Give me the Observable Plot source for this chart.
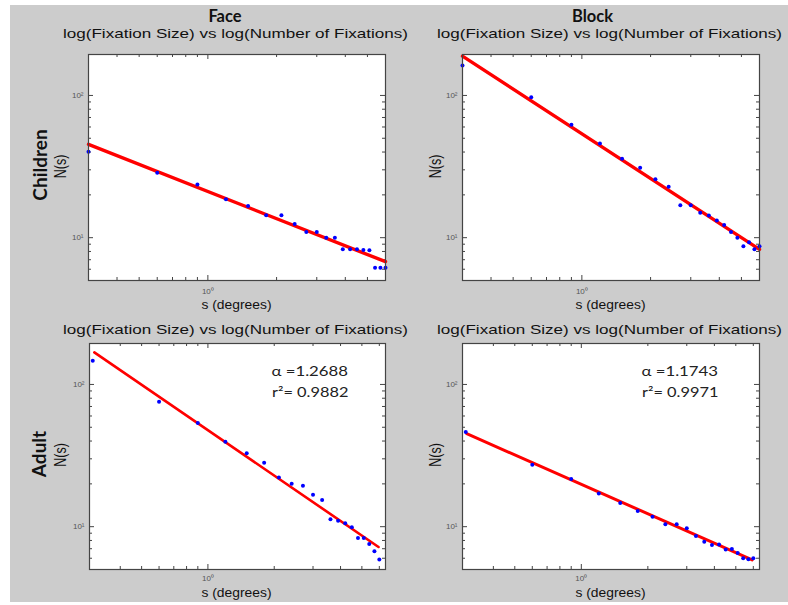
<!DOCTYPE html>
<html><head><meta charset="utf-8">
<script src="https://cdn.jsdelivr.net/npm/d3@7"></script>
<script src="https://cdn.jsdelivr.net/npm/@observablehq/plot@0.6"></script>
<style>
body{margin:0;background:#fff;}
#wrap{position:relative;width:788px;height:605px;overflow:hidden;background:#fff;}
#bg{position:absolute;left:10px;top:5px;width:778px;height:597px;background:#cccccc;}
.panel{position:absolute;}
#labels{position:absolute;left:0;top:0;pointer-events:none;}
</style></head><body>
<div id="wrap"><div id="bg"></div></div>
<script>
// ---- data ----
const fixationSize = [0.3,0.6,0.9,1.2,1.5,1.8,2.1,2.4,2.7,3.0,3.3,3.6,3.9,4.2,4.5,4.8,5.1,5.4,5.7,6.0];
const faceChildren = [40.2,28.6,23.7,18.6,16.7,14.35,14.35,12.5,10.96,10.96,10.0,10.0,8.28,8.28,8.28,8.2,8.15,6.15,6.15,6.15];
const blockChildren = [162.5,97.3,62.2,46.0,35.9,31.0,25.7,22.8,16.9,16.9,15.0,14.3,13.2,12.3,10.96,10.0,8.69,9.27,8.28,8.69];
const faceAdult = [147,75.6,53.6,39.6,32.8,28.1,22.2,20.0,19.4,16.8,15.4,11.3,11.0,10.55,9.9,8.33,8.33,7.56,6.71,5.87];
const blockAdult = [46.3,27.2,21.6,17.1,14.7,12.9,11.75,10.4,10.4,9.73,8.6,7.85,7.44,7.48,6.9,6.97,6.54,6.0,5.9,6.0];

const fitXChildren = [0.3, 6.0];
const faceChildrenFit = [45.3, 6.78];
const blockChildrenFit = [188.9, 8.28];
const fitXFaceAdult = [0.305, 5.95];
const faceAdultFit = [168, 7.2];
const fitXBlockAdult = [0.303, 5.93];
const blockAdultFit = [45.1, 5.84];

const columnTitles = ["Face", "Block"];
const rowTitles = ["Children", "Adult"];
const subtitle = "log(Fixation Size) vs log(Number of Fixations)";
const xLabel = "s (degrees)";
const yLabel = "N(s)";
const annotations = [["α =1.2688", "r²= 0.9882"], ["α =1.1743", "r²= 0.9971"]];

const xMajorTicks = [1];
const xMajorLabels = ["10⁰"];
const xMinorTicks = [0.4,0.5,0.6,0.7,0.8,0.9,2,3,4,5,6];
const yMajorTicks = [10, 100];
const yMajorLabels = ["10¹", "10²"];
const yMinorTicks = [5,6,7,8,9,20,30,40,50,60,70,80,90];

const xDomainTop = [0.3, 6.0];
const xDomainBottom = [0.29, 6.4];
const yDomain = [5.0, 194];

// ---- drawing ----
const wrap = document.getElementById("wrap");
const mL = 30, mR = 8, mT = 4, mB = 22;
const axisColor = "#444";

function panel({left, top, w, h, xDomain, values, fitX, fitY, lineWidth, xPad}) {
  const pts = fixationSize.map((s, i) => ({s, n: values[i]}));
  const fit = fitX.map((s, i) => ({s, n: fitY[i]}));
  const inX = v => v >= xDomain[0] && v <= xDomain[1];
  const inY = v => v >= yDomain[0] && v <= yDomain[1];
  const xmin = xMinorTicks.filter(inX), xmaj = xMajorTicks.filter(inX);
  const ymin = yMinorTicks.filter(inY), ymaj = yMajorTicks.filter(inY);
  const tick = {stroke: axisColor, strokeWidth: 1};
  const p = Plot.plot({
    width: w + mL + mR, height: h + mT + mB,
    marginLeft: mL, marginRight: mR, marginTop: mT, marginBottom: mB,
    x: {type: "log", domain: xDomain},
    y: {type: "log", domain: yDomain},
    style: {background: "transparent", fontFamily: "Liberation Sans, Arial, sans-serif", overflow: "visible"},
    marks: [
      Plot.frame({fill: "white", stroke: null}),
      Plot.tickX(xmin, {x: d => d, ...tick, insetTop: h - 3}),
      Plot.tickX(xmin, {x: d => d, ...tick, insetBottom: h - 3}),
      Plot.tickX(xmaj, {x: d => d, ...tick, insetTop: h - 5}),
      Plot.tickX(xmaj, {x: d => d, ...tick, insetBottom: h - 5}),
      Plot.tickY(ymin, {y: d => d, ...tick, insetRight: w - 3}),
      Plot.tickY(ymin, {y: d => d, ...tick, insetLeft: w - 3}),
      Plot.tickY(ymaj, {y: d => d, ...tick, insetRight: w - 5}),
      Plot.tickY(ymaj, {y: d => d, ...tick, insetLeft: w - 5}),
      Plot.line(fit, {x: "s", y: "n", stroke: "#ff0000", strokeWidth: lineWidth}),
      Plot.dot(pts, {x: "s", y: "n", r: 2, fill: "#0000ff", stroke: null}),
      Plot.axisX({ticks: xmaj, tickSize: 0, tickPadding: xPad, fontSize: 8, fill: "#555", label: null,
        tickFormat: d => xMajorLabels[xMajorTicks.indexOf(d)]}),
      Plot.axisY({ticks: ymaj, tickSize: 0, tickPadding: 5, fontSize: 8, fill: "#555", label: null,
        tickFormat: d => yMajorLabels[yMajorTicks.indexOf(d)]}),
      Plot.frame({stroke: axisColor, strokeWidth: 1.2})
    ]
  });
  p.classList.add("panel");
  p.style.left = (left - mL) + "px";
  p.style.top = (top - mT) + "px";
  wrap.appendChild(p);
}

const frames = [
  {left: 88, top: 53.5, w: 297, h: 226, xDomain: xDomainTop, values: faceChildren, fitX: fitXChildren, fitY: faceChildrenFit, lineWidth: 3.4, xPad: 8},
  {left: 462, top: 53.5, w: 297, h: 226, xDomain: xDomainTop, values: blockChildren, fitX: fitXChildren, fitY: blockChildrenFit, lineWidth: 3.4, xPad: 8},
  {left: 89, top: 343, w: 296, h: 226, xDomain: xDomainBottom, values: faceAdult, fitX: fitXFaceAdult, fitY: faceAdultFit, lineWidth: 2.6, xPad: 6},
  {left: 462, top: 343, w: 297, h: 226, xDomain: xDomainBottom, values: blockAdult, fitX: fitXBlockAdult, fitY: blockAdultFit, lineWidth: 3.0, xPad: 6}
];
frames.forEach(panel);

// ---- labels overlay ----
const svg = d3.select(wrap).append("svg").attr("id", "labels").attr("width", 788).attr("height", 605);
const sans = "Liberation Sans, Arial, sans-serif";
const bold = "Lato, 'Open Sans', sans-serif";
const colCenters = [236.5, 610.5];
const titleCenters = [225, 592.5];
columnTitles.forEach((t, i) => {
  svg.append("text").attr("x", titleCenters[i]).attr("y", 22).attr("text-anchor", "middle")
    .attr("font-family", bold).attr("font-weight", 700).attr("font-size", 16.5).attr("fill", "#111").text(t);
});
[37.5, 333.5].forEach(y => colCenters.forEach(cx => {
  svg.append("text").attr("x", cx - 1).attr("y", y).attr("text-anchor", "middle")
    .attr("textLength", 345).attr("lengthAdjust", "spacingAndGlyphs")
    .attr("font-family", sans).attr("font-size", 13.4).attr("fill", "#111").text(subtitle);
}));
[308.5, 597].forEach(y => colCenters.forEach(cx => {
  svg.append("text").attr("x", cx).attr("y", y).attr("text-anchor", "middle")
    .attr("textLength", 70).attr("lengthAdjust", "spacingAndGlyphs")
    .attr("font-family", sans).attr("font-size", 12.5).attr("fill", "#111").text(xLabel);
}));
[166.5, 455].forEach(cy => [65.5, 440.5].forEach(bx => {
  svg.append("text").attr("transform", `translate(${bx},${cy}) scale(1.28,1) rotate(-90)`).attr("text-anchor", "middle")
    .attr("font-family", sans).attr("font-size", 12.5).attr("fill", "#111").text(yLabel);
}));
[[46.5, 165], [45.5, 454]].forEach(([bx, cy], i) => {
  svg.append("text").attr("transform", `translate(${bx},${cy}) rotate(-90)`).attr("text-anchor", "middle")
    .attr("font-family", bold).attr("font-weight", 700).attr("font-size", 19).attr("fill", "#111").text(rowTitles[i]);
});
[271.5, 641.5].forEach((x, i) => {
  svg.append("text").attr("x", x).attr("y", 375.5).attr("font-family", bold).attr("font-size", 14)
    .attr("textLength", 76.5).attr("lengthAdjust", "spacingAndGlyphs")
    .attr("fill", "#222").text(annotations[i][0]);
  svg.append("text").attr("x", x + 0.5).attr("y", 396.5).attr("font-family", bold).attr("font-size", 14)
    .attr("textLength", 76.5).attr("lengthAdjust", "spacingAndGlyphs")
    .attr("fill", "#222").text(annotations[i][1]);
});
</script>
</body></html>
